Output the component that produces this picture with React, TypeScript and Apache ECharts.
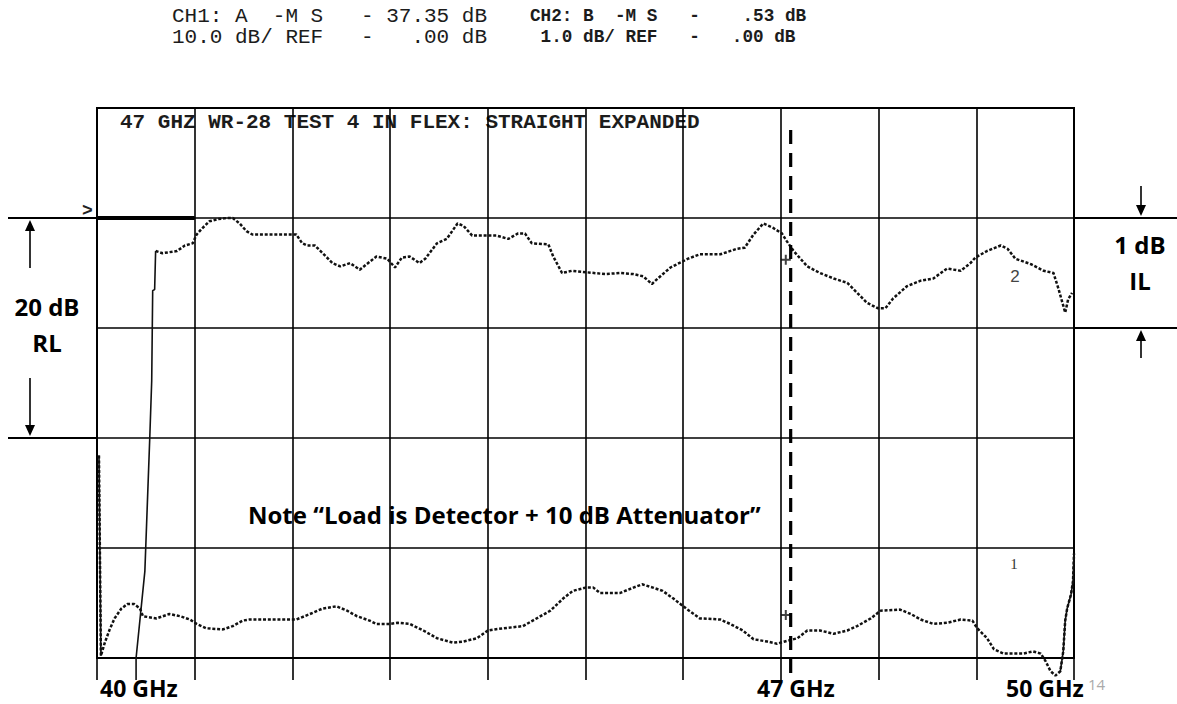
import React, { useEffect, useRef } from "react";
import * as echarts from "echarts";

// ---------- data ----------
const freqMin = 40;
const freqMax = 50;
const freqStep = 1;

// CH2 (B -M S): insertion loss, 1 dB/div, REF .00 dB
const ch2Freq = [
  40.4, 40.4, 40.49, 40.54, 40.56, 40.57, 40.59, 40.6, 40.67, 40.82, 40.9,
  40.98, 41.02, 41.07, 41.15, 41.24, 41.33, 41.39, 41.46, 41.53, 41.59,
  42.04, 42.1, 42.15, 42.23, 42.31, 42.41, 42.49, 42.59, 42.69, 42.76,
  42.86, 42.97, 43.05, 43.12, 43.2, 43.3, 43.36, 43.48, 43.58, 43.69,
  43.75, 43.84, 44.09, 44.21, 44.31, 44.38, 44.45, 44.62, 44.67, 44.76,
  44.86, 45.2, 45.35, 45.49, 45.59, 45.68, 45.74, 45.87, 46.05, 46.17,
  46.38, 46.55, 46.63, 46.72, 46.82, 46.92, 47.01, 47.06, 47.13, 47.2,
  47.27, 47.4, 47.54, 47.68, 47.78, 47.88, 47.99, 48.07, 48.15, 48.29,
  48.43, 48.56, 48.7, 48.84, 48.94, 48.99, 49.11, 49.25, 49.32, 49.4,
  49.56, 49.69, 49.79, 49.84, 49.91, 49.94, 49.98,
];
const ch2Loss = [
  -4.2, -4.0, -3.21, -2.0, -1.48, -0.66, -0.65, -0.3, -0.32, -0.3, -0.25,
  -0.23, -0.15, -0.1, -0.03, -0.01, 0.0, 0.0, -0.05, -0.12, -0.15,
  -0.15, -0.23, -0.25, -0.25, -0.32, -0.41, -0.44, -0.41, -0.47, -0.42,
  -0.35, -0.37, -0.45, -0.36, -0.35, -0.41, -0.37, -0.23, -0.19, -0.05,
  -0.07, -0.16, -0.16, -0.19, -0.14, -0.14, -0.23, -0.24, -0.35, -0.5,
  -0.48, -0.51, -0.5, -0.51, -0.53, -0.6, -0.55, -0.45, -0.37, -0.33,
  -0.33, -0.28, -0.27, -0.15, -0.05, -0.09, -0.14, -0.21, -0.3, -0.37,
  -0.44, -0.5, -0.55, -0.59, -0.68, -0.77, -0.82, -0.82, -0.73, -0.62,
  -0.57, -0.55, -0.46, -0.48, -0.41, -0.36, -0.3, -0.25, -0.28, -0.37,
  -0.42, -0.48, -0.5, -0.64, -0.86, -0.74, -0.68,
];
const ch2SolidCount = 8;

// CH1 (A -M S): return loss, 10 dB/div, REF .00 dB
const ch1Freq = [
  40.02, 40.04, 40.08, 40.13, 40.18, 40.25, 40.31, 40.38, 40.44, 40.47,
  40.61, 40.74, 40.85, 40.95, 41.02, 41.12, 41.29, 41.39, 41.49, 41.56,
  42.04, 42.18, 42.31, 42.45, 42.56, 42.66, 42.79, 42.86, 43.0, 43.08,
  43.2, 43.34, 43.48, 43.64, 43.75, 43.89, 44.0, 44.07, 44.16, 44.36,
  44.46, 44.64, 44.77, 44.87, 45.0, 45.08, 45.15, 45.35, 45.49, 45.58,
  45.69, 45.79, 45.9, 46.03, 46.17, 46.38, 46.48, 46.61, 46.72, 46.86,
  46.96, 47.04, 47.17, 47.27, 47.4, 47.54, 47.68, 47.78, 47.92, 48.02,
  48.22, 48.33, 48.43, 48.56, 48.7, 48.84, 48.96, 49.01, 49.11, 49.18,
  49.28, 49.48, 49.58, 49.66, 49.71, 49.76, 49.81, 49.86, 49.89, 49.91,
  49.93, 49.97, 49.99, 50.0,
];
const ch1Return = [
  -21.6, -39.8, -38.6, -37.4, -36.4, -35.5, -35.1, -35.1, -35.5, -36.2,
  -36.4, -36.0, -36.2, -36.5, -36.9, -37.3, -37.4, -37.1, -36.6, -36.5,
  -36.5, -36.0, -35.5, -35.3, -35.7, -36.2, -36.6, -36.9, -36.9, -36.8,
  -36.9, -37.5, -38.2, -38.6, -38.5, -38.2, -37.5, -37.4, -37.3, -37.1,
  -36.6, -35.7, -34.6, -33.9, -33.6, -33.6, -34.1, -34.1, -33.6, -33.3,
  -33.6, -33.9, -34.6, -35.5, -36.4, -36.5, -36.9, -37.5, -38.3, -38.5,
  -38.7, -38.5, -38.2, -37.5, -37.5, -37.8, -37.5, -37.1, -36.4, -35.7,
  -35.6, -36.0, -36.5, -36.9, -36.8, -36.5, -36.6, -37.3, -38.2, -39.2,
  -39.6, -39.6, -39.4, -39.6, -40.3, -41.2, -41.6, -41.2, -39.4, -36.6,
  -35.5, -34.2, -33.0, -30.5,
];
const ch1SolidStart = 2; // first points: vertical drop
const ch1SolidEndFrom = 87; // last points: steep rise

// markers
const markerFreq = [47.05];
const ch1Marker = [-36.1];
const ch2Marker = [-0.38];
const dashedMarkerFreq = [47.1, 47.1];
const dashedMarkerLevel = [8, -41.8];

// texts
const headerCh1 = ["CH1: A  -M S   - 37.35 dB", "10.0 dB/ REF   -   .00 dB"];
const headerCh2 = ["CH2: B  -M S   -    .53 dB", " 1.0 dB/ REF   -   .00 dB"];
const plotTitle = "47 GHZ WR-28 TEST 4 IN FLEX: STRAIGHT EXPANDED";
const freqLabels = ["40 GHz", "47 GHz", "50 GHz"];
const noteText = "Note \u201cLoad is Detector + 10 dB Attenuator\u201d";

// ---------- helpers ----------
const INK = "#111";

function monoText(str: string, x0: number, yc: number, size: number, bold: boolean) {
  const cw = size * 0.6;
  const out: any[] = [];
  const re = /\S+/g;
  let m: RegExpExecArray | null;
  while ((m = re.exec(str))) {
    out.push({
      type: "text",
      x: x0 + m.index * cw,
      y: yc,
      silent: true,
      style: {
        text: m[0],
        font: `${bold ? "bold " : ""}${size}px "Liberation Mono", "DejaVu Sans Mono", monospace`,
        fill: "#1c1c1c",
        textAlign: "left",
        textVerticalAlign: "middle",
        align: "left",
        verticalAlign: "middle",
        lineHeight: size,
      },
    });
  }
  return out;
}

function label(text: string, x: number, y: number, font: string, align = "left", fill = "#000", lh = 22) {
  return {
    type: "text",
    x,
    y,
    silent: true,
    style: {
      text,
      font,
      fill,
      textAlign: align,
      textVerticalAlign: "middle",
      align,
      verticalAlign: "middle",
      lineHeight: lh,
    },
  };
}

function arrow(x: number, yFrom: number, yTip: number) {
  const dir = yTip > yFrom ? 1 : -1;
  const head = 11;
  return [
    {
      type: "line",
      silent: true,
      shape: { x1: x, y1: yFrom, x2: x, y2: yTip - dir * head },
      style: { stroke: "#000", lineWidth: 1.6 },
    },
    {
      type: "polygon",
      silent: true,
      shape: {
        points: [
          [x - 5, yTip - dir * head],
          [x + 5, yTip - dir * head],
          [x, yTip],
        ],
      },
      style: { fill: "#000" },
    },
  ];
}

function hline(x1: number, x2: number, y: number, w = 2) {
  return {
    type: "line",
    silent: true,
    shape: { x1, y1: y, x2, y2: y },
    style: { stroke: "#000", lineWidth: w },
  };
}

export default function App() {
  const ref = useRef<HTMLDivElement>(null);

  useEffect(() => {
    if (!ref.current) return;
    const chart = echarts.init(ref.current, null, { renderer: "svg" });

    const ch2Data = ch2Freq.map((f, i) => [f, ch2Loss[i]]);
    const ch1Data = ch1Freq.map((f, i) => [f, ch1Return[i]]);

    const labelFont = 'bold 24px "Open Sans", "Noto Sans", sans-serif';
    const bottomFont = 'bold 23px "Open Sans", "Noto Sans", sans-serif';
    const GL = 97;
    const GT = 108;
    const GW = 977;
    const GH = 550;
    const div = GH / 5;
    const yRef = GT + div; // REF line
    const yIL = GT + 2 * div;
    const yRL = GT + 3 * div;

    const graphic: any[] = [
      ...monoText(headerCh1[0], 172, 16, 21, false),
      ...monoText(headerCh1[1], 172, 37, 21, false),
      ...monoText(headerCh2[0], 530, 16, 17.7, true),
      ...monoText(headerCh2[1], 530, 37, 17.7, true),
      ...monoText(plotTitle, 120, 122, 21, true),
      label(">", 82, 211, 'bold 18px "Liberation Mono", monospace', "left", "#222", 18),
      hline(8, GL, yRef),
      hline(GL + GW, 1177, yRef),
      hline(GL + GW, 1177, yIL),
      hline(8, GL, yRL),
      ...arrow(30, 268, yRef + 2),
      ...arrow(30, 378, yRL - 2),
      ...arrow(1141, 186, yRef - 2),
      ...arrow(1141, 358, yIL + 2),
      label("20 dB", 47, 306, labelFont, "center"),
      label("RL", 47, 342, labelFont, "center"),
      label("1 dB", 1140, 244, labelFont, "center"),
      label("IL", 1140, 280, labelFont, "center"),
      label(noteText, 248, 514, labelFont, "left"),
      label(freqLabels[0], 100, 688, bottomFont, "left", "#000", 20),
      label(freqLabels[1], 757, 688, bottomFont, "left", "#000", 20),
      label(freqLabels[2], 1006, 688, bottomFont, "left", "#000", 20),
      label("14", 1088, 684, '15px "Open Sans", sans-serif', "left", "#aaa", 15),
      label("2", 1015, 276, '17px "Liberation Sans", sans-serif', "center", "#444", 17),
      label("1", 1014, 564, '15px "Liberation Serif", serif', "center", "#333", 15),
    ];

    const dotted = { color: INK, width: 2.5, type: [3, 1.8] as any, cap: "butt" };
    const solid = { color: INK, width: 1.6, type: "solid" };

    chart.setOption({
      animation: false,
      backgroundColor: "#fff",
      grid: {
        left: GL,
        top: GT,
        width: GW,
        height: GH,
        show: true,
        borderColor: "#000",
        borderWidth: 2,
        backgroundColor: "transparent",
        outerBoundsMode: "none",
      },
      xAxis: {
        type: "value",
        min: freqMin,
        max: freqMax,
        interval: freqStep,
        axisLabel: { show: false },
        axisLine: { show: true, onZero: false, lineStyle: { color: "#000", width: 2 } },
        axisTick: { show: true, inside: false, length: 22, lineStyle: { color: "#000", width: 1.6 } },
        splitLine: { show: true, lineStyle: { color: "#000", width: 1.6 } },
      },
      yAxis: [
        {
          type: "value",
          min: -40,
          max: 10,
          interval: 10,
          axisLabel: { show: false },
          axisLine: { show: false },
          axisTick: { show: false },
          splitLine: { show: true, lineStyle: { color: "#000", width: 1.6 } },
        },
        {
          type: "value",
          min: -4,
          max: 1,
          interval: 1,
          position: "right",
          axisLabel: { show: false },
          axisLine: { show: false },
          axisTick: { show: false },
          splitLine: { show: false },
        },
      ],
      graphic,
      series: [
        {
          name: "CH1",
          type: "line",
          yAxisIndex: 0,
          data: ch1Data,
          showSymbol: false,
          clip: false,
          lineStyle: dotted,
          silent: true,
          markLine: {
            silent: true,
            symbol: "none",
            label: { show: false },
            lineStyle: { color: "#000", width: 4, type: "solid" },
            data: [[{ coord: [freqMin, 0] }, { coord: [freqMin + freqStep, 0] }]],
          },
        },
        {
          name: "CH1 start",
          type: "line",
          yAxisIndex: 0,
          data: ch1Data.slice(0, ch1SolidStart),
          showSymbol: false,
          clip: false,
          lineStyle: solid,
          silent: true,
        },
        {
          name: "CH1 end",
          type: "line",
          yAxisIndex: 0,
          data: ch1Data.slice(ch1SolidEndFrom),
          showSymbol: false,
          clip: false,
          lineStyle: solid,
          silent: true,
        },
        {
          name: "CH2",
          type: "line",
          yAxisIndex: 1,
          data: ch2Data.slice(ch2SolidCount - 1),
          showSymbol: false,
          clip: false,
          lineStyle: dotted,
          silent: true,
        },
        {
          name: "CH2 start",
          type: "line",
          yAxisIndex: 1,
          data: ch2Data.slice(0, ch2SolidCount),
          showSymbol: false,
          clip: false,
          lineStyle: solid,
          silent: true,
        },
        {
          name: "47 GHz marker",
          type: "line",
          yAxisIndex: 0,
          data: dashedMarkerFreq.map((f, i) => [f, dashedMarkerLevel[i]]),
          showSymbol: false,
          clip: false,
          lineStyle: { color: "#000", width: 3.2, type: [14, 9] as any, cap: "butt" },
          silent: true,
        },
        {
          name: "markers",
          type: "scatter",
          yAxisIndex: 0,
          data: markerFreq.map((f, i) => [f, ch1Marker[i]]),
          symbol: "path://M4,0H6V10H4Z M0,4H10V6H0Z",
          symbolSize: 10,
          itemStyle: { color: INK },
          silent: true,
        },
        {
          name: "markers2",
          type: "scatter",
          yAxisIndex: 1,
          data: markerFreq.map((f, i) => [f, ch2Marker[i]]),
          symbol: "path://M4,0H6V10H4Z M0,4H10V6H0Z",
          symbolSize: 10,
          itemStyle: { color: INK },
          silent: true,
        },
      ],
    });

    return () => chart.dispose();
  }, []);

  return (
    <div
      ref={ref}
      style={{ position: "fixed", left: 0, top: 0, width: 1177, height: 704, background: "#fff" }}
    />
  );
}
